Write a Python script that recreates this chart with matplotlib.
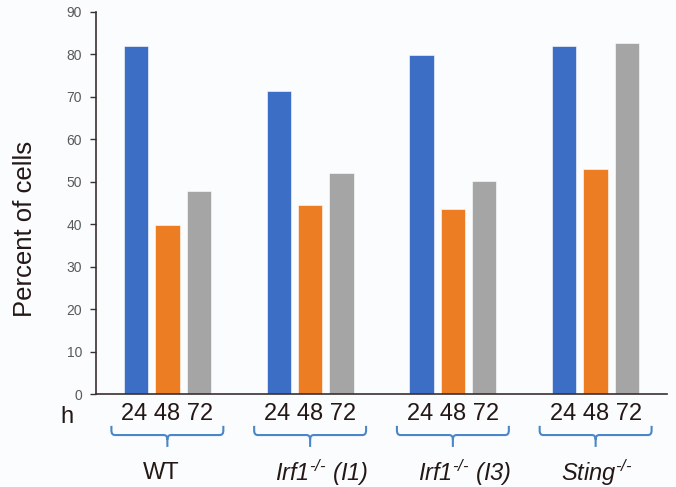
import matplotlib
matplotlib.use("Agg")
import matplotlib.pyplot as plt
import numpy as np
from matplotlib.path import Path
from matplotlib.patches import PathPatch
import matplotlib.transforms as mtransforms

plt.rcParams["font.family"] = ["Liberation Sans", "DejaVu Sans"]
# Math text is only used for the genotype labels, which are fully italic
plt.rcParams["mathtext.fontset"] = "custom"
plt.rcParams["mathtext.rm"] = "Liberation Sans:italic"
plt.rcParams["mathtext.it"] = "Liberation Sans:italic"
plt.rcParams["mathtext.default"] = "rm"

# Data
groups = ["WT", "Irf1 (I1)", "Irf1 (I3)", "Sting"]
ko = "\u2010/\u2010"
group_labels = [r"WT",
                r"$\mathrm{Irf1}^{\mathrm{" + ko + r"}}\ \mathrm{(I1)}$",
                r"$\mathrm{Irf1}^{\mathrm{" + ko + r"}}\ \mathrm{(I3)}$",
                r"$\mathrm{Sting}^{\mathrm{" + ko + r"}}$"]
hours = ["24", "48", "72"]
pct_24h = [82.0, 71.3, 79.8, 82.0]
pct_48h = [39.8, 44.5, 43.5, 52.9]
pct_72h = [47.9, 52.0, 50.3, 82.6]

colors = ["#3b6ec4", "#ed7d22", "#a5a5a5"]
bg = "#fbfcfe"
axis_col = "#3a3030"
brace_col = "#4a86c8"

fig = plt.figure(figsize=(6.76, 4.87), dpi=100, facecolor=bg)
ax = fig.add_axes([0.142, 0.19, 0.8447, 0.786], facecolor=bg)

x = np.arange(len(groups))
step = 0.22
width = 0.171
for i, vals in enumerate([pct_24h, pct_48h, pct_72h]):
    ax.bar(x + (i - 1) * step, vals, width=width, color=colors[i],
           edgecolor="white", linewidth=0.4, zorder=2)

ax.set_xlim(-0.5, 3.5)
ax.set_ylim(0, 90)
ax.set_yticks(np.arange(0, 91, 10))
ax.tick_params(axis="y", labelsize=10, labelcolor="#595959", color=axis_col,
               length=4, width=1, pad=6)
ax.set_xticks(x)
ax.set_xticklabels([" ".join(hours)] * len(groups), fontsize=17, color="#231815")
ax.tick_params(axis="x", length=0, pad=6)

for side in ["top", "right"]:
    ax.spines[side].set_visible(False)
for side in ["left", "bottom"]:
    ax.spines[side].set_color(axis_col)
    ax.spines[side].set_linewidth(1.2)

# Braces under each group
trans = mtransforms.blended_transform_factory(ax.transData, ax.transAxes)
hw = 0.392
top_y, mid_y, tip_y = -0.082, -0.106, -0.137
r = 0.025
ry = 0.012
for c in x:
    verts = [
        (c - hw, top_y), (c - hw, mid_y + ry),
        (c - hw, mid_y), (c - hw + r, mid_y),
        (c - r, mid_y),
        (c, mid_y), (c, mid_y - ry),
        (c, tip_y),
        (c, mid_y - ry),
        (c, mid_y), (c + r, mid_y),
        (c + hw - r, mid_y),
        (c + hw, mid_y), (c + hw, mid_y + ry),
        (c + hw, top_y),
    ]
    codes = [Path.MOVETO, Path.LINETO,
             Path.CURVE3, Path.CURVE3,
             Path.LINETO,
             Path.CURVE3, Path.CURVE3,
             Path.LINETO,
             Path.MOVETO,
             Path.CURVE3, Path.CURVE3,
             Path.LINETO,
             Path.CURVE3, Path.CURVE3,
             Path.LINETO]
    ax.add_patch(PathPatch(Path(verts, codes), transform=trans, fill=False,
                           edgecolor=brace_col, linewidth=1.5, clip_on=False))

label_dx = [-0.04, 0.08, 0.08, 0.01]
for c, lab, dx in zip(x, group_labels, label_dx):
    ax.text(c + dx, -0.205, lab, transform=trans, ha="center", va="center",
            fontsize=17, color="#231815")

# Unit label for the hour ticks
fig.text(67 / 676, 1 - 417 / 487, "h", ha="center", va="center",
         fontsize=17, color="#231815")

fig.text(25 / 676, 1 - 229 / 487, "Percent of cells", rotation=90,
         ha="center", va="center", fontsize=18.5, color="#231815")

fig.savefig("out.png", dpi=100, facecolor=bg)
